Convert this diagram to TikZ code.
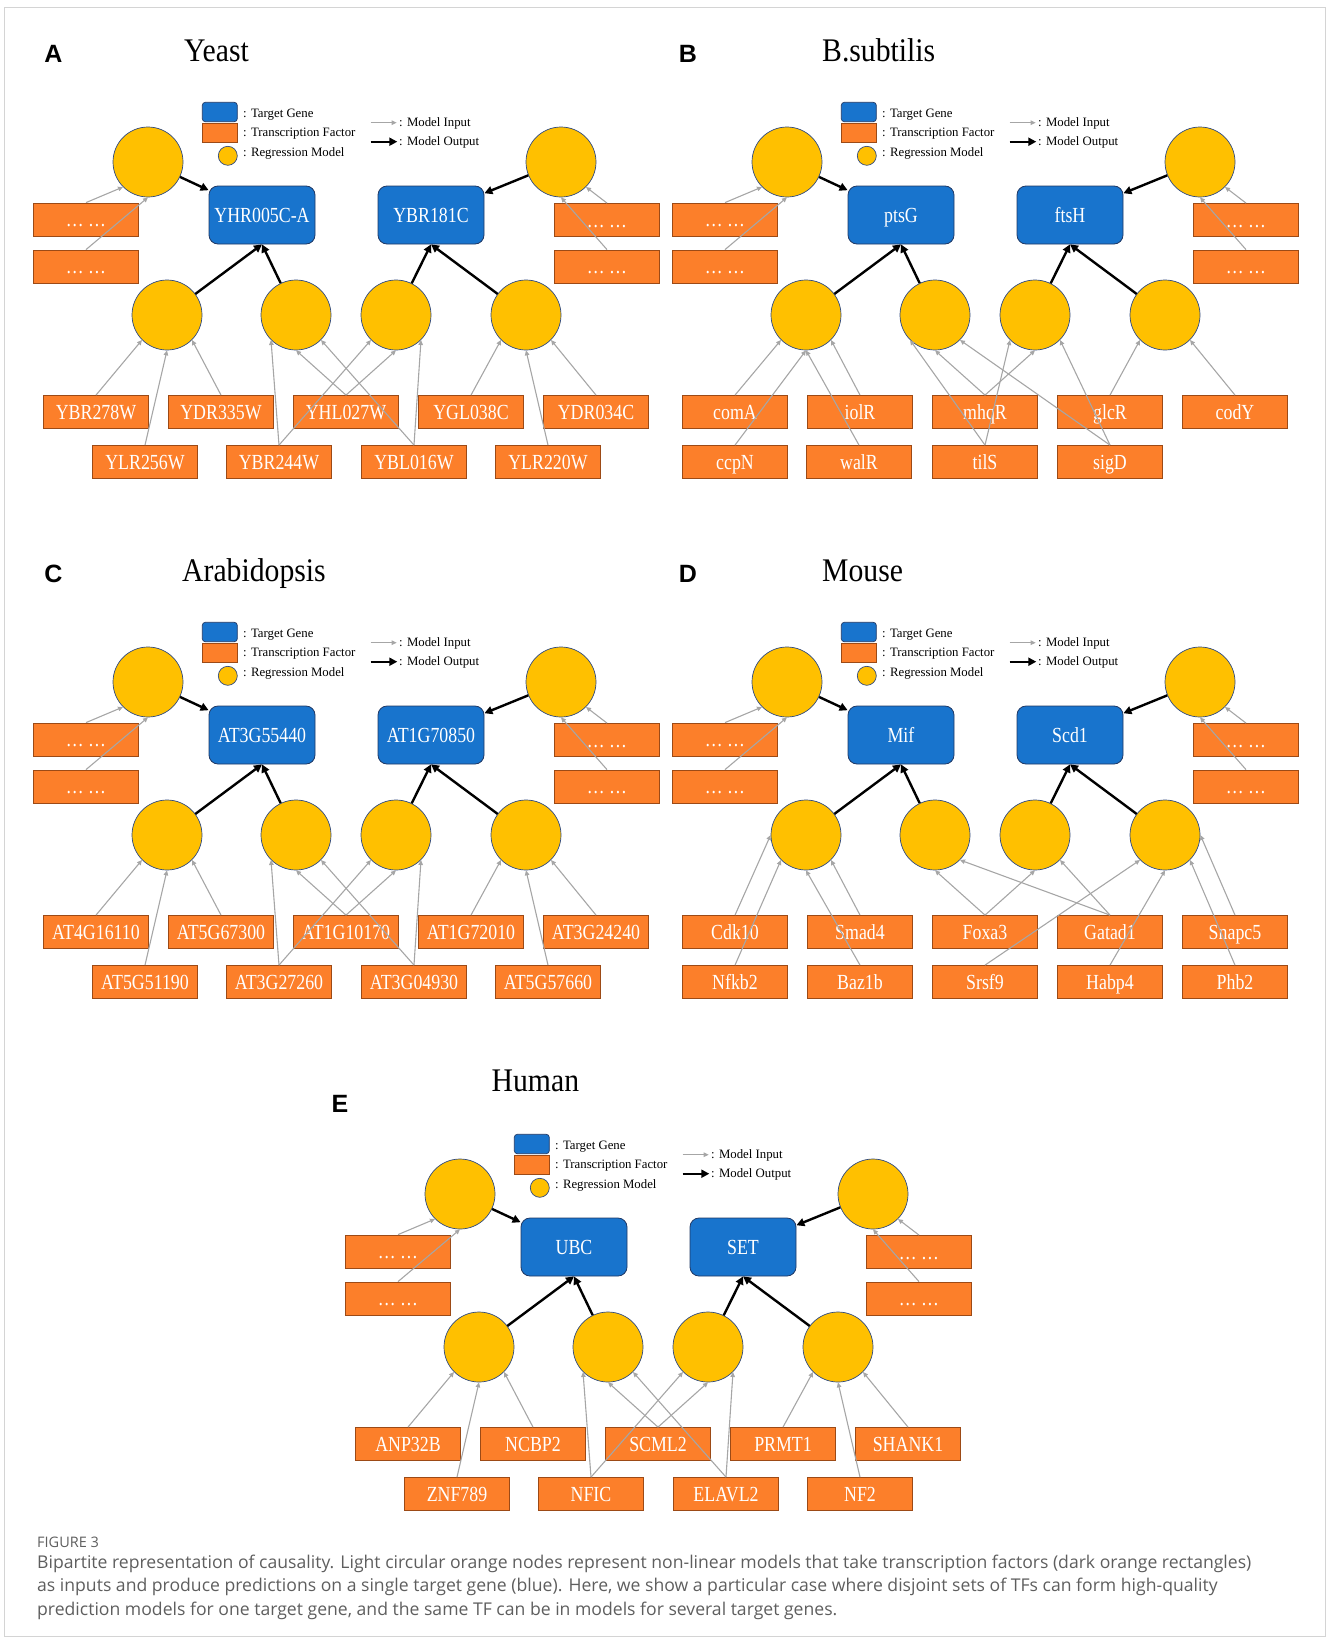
\documentclass[tikz,border=0pt]{standalone}
\usepackage{fontspec}
\setmainfont{Liberation Serif}
\newfontfamily\labelfont[FakeStretch=0.83]{Liberation Serif}
\newfontfamily\titlefont[FakeStretch=0.9]{Liberation Serif}
\newfontfamily\letterfont{Liberation Sans}
\newfontfamily\captionfont{Open Sans}
\usetikzlibrary{arrows.meta, positioning}
\definecolor{genebg}{HTML}{1874CD}
\definecolor{geneedge}{HTML}{203864}
\definecolor{tfbg}{HTML}{FC7F2A}
\definecolor{tfedge}{HTML}{9C4A16}
\definecolor{modelbg}{HTML}{FFC000}
\definecolor{modeledge}{HTML}{2F4A80}
\definecolor{ingray}{HTML}{A6A6A6}
\definecolor{framegray}{HTML}{D4D4D4}
\definecolor{capgray}{HTML}{5E5E5E}

% shared part of every panel: legend, target genes, regression models
\newcommand{\panelcore}[3]{%
  \node[draw=geneedge, fill=genebg, rounded corners=3pt, line width=0.7pt,
        minimum width=35pt, minimum height=19.4pt, inner sep=0pt] (#1-kg) at (219.8,112) {};
  \node[draw=tfedge, fill=tfbg, line width=0.7pt,
        minimum width=35pt, minimum height=19.4pt, inner sep=0pt] (#1-kt) at (219.5,133) {};
  \node[modelnode, minimum size=19pt] (#1-km) at (227.8,155.8) {};
  \node[legtext] (#1-kgt) at (243,117.3) {: Target Gene};
  \node[legtext] (#1-ktt) at (243,136.7) {: Transcription Factor};
  \node[legtext] (#1-kmt) at (243,156.7) {: Regression Model};
  \coordinate (#1-ki0) at (370.7,122.7);
  \coordinate (#1-ki1) at (396.7,122.7);
  \coordinate (#1-ko0) at (370.7,141.7);
  \coordinate (#1-ko1) at (397.3,141.7);
  \draw[inarrow] (#1-ki0) -- (#1-ki1);
  \draw[outarrow] (#1-ko0) -- (#1-ko1);
  \node[legtext] (#1-kit) at (399,126.5) {: Model Input};
  \node[legtext] (#1-kot) at (399,145.5) {: Model Output};
  % top row
  \node[modelnode] (#1-tl) at (148,162) {};
  \node[modelnode] (#1-tr) at (561,162) {};
  \node[genenode] (#1-g1) at (262,215) {#2};
  \node[genenode] (#1-g2) at (431,215) {#3};
  \node[tfnode] (#1-d1) at (86,219.5) {… …};
  \node[tfnode] (#1-d2) at (86,266.5) {… …};
  \node[tfnode] (#1-d3) at (607,220) {… …};
  \node[tfnode] (#1-d4) at (607,266.5) {… …};
  \foreach \x [count=\i] in {167,296,396,526}
    \node[modelnode] (#1-m\i) at (\x,315) {};
  \draw[inarrow] (#1-d1.north) -- (#1-tl.south west);
  \draw[inarrow] (#1-d2.north) -- (#1-tl.south);
  \draw[inarrow] (#1-d3.north) -- (#1-tr.south east);
  \draw[inarrow] (#1-d4.north) -- (#1-tr.south);
  \draw[outarrow] (#1-tl) -- (#1-g1);
  \draw[outarrow] (#1-tr) -- (#1-g2);
  \draw[outarrow] (#1-m1) -- (#1-g1.south);
  \draw[outarrow] (#1-m2) -- (#1-g1.south);
  \draw[outarrow] (#1-m3) -- (#1-g2.south);
  \draw[outarrow] (#1-m4) -- (#1-g2.south);
}

% wiring shared by panels A, C and E
\newcommand{\wiresace}[1]{%
  \draw[inarrow] (#1-f1.north) -- (#1-m1.south west);
  \draw[inarrow] (#1-s1.north) -- (#1-m1.south);
  \draw[inarrow] (#1-f2.north) -- (#1-m1.south east);
  \draw[inarrow] (#1-s2.north) -- (#1-m2.south west);
  \draw[inarrow] (#1-s2.north) -- (#1-m3.south west);
  \draw[inarrow] (#1-f3.north) -- (#1-m2.south);
  \draw[inarrow] (#1-f3.north) -- (#1-m3.south);
  \draw[inarrow] (#1-s3.north) -- (#1-m2.south east);
  \draw[inarrow] (#1-s3.north) -- (#1-m3.south east);
  \draw[inarrow] (#1-f4.north) -- (#1-m4.south west);
  \draw[inarrow] (#1-s4.north) -- (#1-m4.south);
  \draw[inarrow] (#1-f5.north) -- (#1-m4.south east);
}

\begin{document}
\begin{tikzpicture}[x=1pt, y=-1pt,
    modelnode/.style={circle, draw=modeledge, fill=modelbg, line width=0.7pt,
                      minimum size=70pt, inner sep=0pt},
    genenode/.style={rectangle, rounded corners=9pt, draw=geneedge, fill=genebg,
                     line width=0.8pt, minimum width=106pt, minimum height=58pt,
                     inner sep=0pt, text=white, text height=14pt, text depth=0pt,
                     font=\labelfont\fontsize{21.5}{21.5}\selectfont},
    tfnode/.style={rectangle, draw=tfedge, fill=tfbg, line width=0.8pt,
                   minimum width=105pt, minimum height=33pt, inner sep=0pt,
                   text=white, text height=14pt, text depth=0pt,
                   font=\labelfont\fontsize{21.5}{21.5}\selectfont},
    inarrow/.style={-{Triangle[length=5pt, width=4.5pt]}, draw=ingray, line width=1.1pt},
    outarrow/.style={-{Triangle[length=8pt, width=8pt]}, draw=black, line width=2.4pt},
    legtext/.style={anchor=base west, inner sep=0pt, font=\fontsize{12.8}{12.8}\selectfont},
    titletext/.style={anchor=base west, inner sep=0pt, font=\titlefont\fontsize{33}{33}\selectfont},
    lettertext/.style={inner sep=0pt, font=\letterfont\bfseries\fontsize{25}{25}\selectfont},
    captext/.style={anchor=base west, inner sep=0pt, text=capgray,
                    font=\captionfont\fontsize{17.6}{17.6}\selectfont}
]
    \useasboundingbox (0,0) rectangle (1328,1638);
    \draw[framegray, line width=1.2pt] (4.5,7.5) rectangle (1325.5,1636.5);

    % A: Yeast
    \begin{scope}
        \node[lettertext] (a-letter) at (53.5,53.5) {A};
        \node[titletext] (a-title) at (184,61.7) {Yeast};
        \panelcore{a}{YHR005C-A}{YBR181C}
        \foreach \x/\t [count=\i] in {96/YBR278W, 221/YDR335W, 346/YHL027W, 471/YGL038C, 596/YDR034C}
            \node[tfnode] (a-f\i) at (\x,412) {\t};
        \foreach \x/\t [count=\i] in {145/YLR256W, 279/YBR244W, 414/YBL016W, 548/YLR220W}
            \node[tfnode] (a-s\i) at (\x,462) {\t};
        \wiresace{a}
    \end{scope}

    % B: B.subtilis
    \begin{scope}[shift={(639,0)}]
        \node[lettertext] (b-letter) at (49,53.5) {B};
        \node[titletext] (b-title) at (183,61.7) {B.subtilis};
        \panelcore{b}{ptsG}{ftsH}
        \foreach \x/\t [count=\i] in {96/comA, 221/iolR, 346/mhqR, 471/glcR, 596/codY}
            \node[tfnode] (b-f\i) at (\x,412) {\t};
        \foreach \x/\t [count=\i] in {96/ccpN, 220/walR, 346/tilS, 471/sigD}
            \node[tfnode] (b-s\i) at (\x,462) {\t};
        \draw[inarrow] (b-f1.north) -- (b-m1.south west);
        \draw[inarrow] (b-s1.north) -- (b-m1.south);
        \draw[inarrow] (b-s2.north) -- (b-m1.south);
        \draw[inarrow] (b-f2.north) -- (b-m1.south east);
        \draw[inarrow] (b-f3.north) -- (b-m2.south);
        \draw[inarrow] (b-f3.north) -- (b-m3.south);
        \draw[inarrow] (b-s3.north) -- (b-m2.south west);
        \draw[inarrow] (b-s3.north) -- (b-m3.south west);
        \draw[inarrow] (b-s4.north) -- (b-m2.south east);
        \draw[inarrow] (b-s4.north) -- (b-m3.south east);
        \draw[inarrow] (b-f4.north) -- (b-m4.south west);
        \draw[inarrow] (b-f5.north) -- (b-m4.south east);
    \end{scope}

    % C: Arabidopsis
    \begin{scope}[shift={(0,520)}]
        \node[lettertext] (c-letter) at (53.5,53.5) {C};
        \node[titletext] (c-title) at (182,61.7) {Arabidopsis};
        \panelcore{c}{AT3G55440}{AT1G70850}
        \foreach \x/\t [count=\i] in {96/AT4G16110, 221/AT5G67300, 346/AT1G10170, 471/AT1G72010, 596/AT3G24240}
            \node[tfnode] (c-f\i) at (\x,412) {\t};
        \foreach \x/\t [count=\i] in {145/AT5G51190, 279/AT3G27260, 414/AT3G04930, 548/AT5G57660}
            \node[tfnode] (c-s\i) at (\x,462) {\t};
        \wiresace{c}
    \end{scope}

    % D: Mouse
    \begin{scope}[shift={(639,520)}]
        \node[lettertext] (d-letter) at (49,53.5) {D};
        \node[titletext] (d-title) at (183,61.7) {Mouse};
        \panelcore{d}{Mif}{Scd1}
        \foreach \x/\t [count=\i] in {96/Cdk10, 221/Smad4, 346/Foxa3, 471/Gatad1, 596/Snapc5}
            \node[tfnode] (d-f\i) at (\x,412) {\t};
        \foreach \x/\t [count=\i] in {96/Nfkb2, 221/Baz1b, 346/Srsf9, 471/Habp4, 596/Phb2}
            \node[tfnode] (d-s\i) at (\x,462) {\t};
        \draw[inarrow] (d-f1.north) -- (d-m1.west);
        \draw[inarrow] (d-s1.north) -- (d-m1.south west);
        \draw[inarrow] (d-f2.north) -- (d-m1.south east);
        \draw[inarrow] (d-s2.north) -- (d-m1.south);
        \draw[inarrow] (d-f3.north) -- (d-m2.south);
        \draw[inarrow] (d-f3.north) -- (d-m3.south);
        \draw[inarrow] (d-f4.north) -- (d-m2.south east);
        \draw[inarrow] (d-f4.north) -- (d-m3.south east);
        \draw[inarrow] (d-s3.north) -- (d-m4.south west);
        \draw[inarrow] (d-s4.north) -- (d-m4.south);
        \draw[inarrow] (d-f5.north) -- (d-m4.east);
        \draw[inarrow] (d-s5.north) -- (d-m4.south east);
    \end{scope}

    % E: Human
    \begin{scope}[shift={(312,1032)}]
        \node[lettertext] (e-letter) at (28,72) {E};
        \node[titletext] (e-title) at (179.5,59.7) {Human};
        \panelcore{e}{UBC}{SET}
        \foreach \x/\t [count=\i] in {96/ANP32B, 221/NCBP2, 346/SCML2, 471/PRMT1, 596/SHANK1}
            \node[tfnode] (e-f\i) at (\x,412) {\t};
        \foreach \x/\t [count=\i] in {145/ZNF789, 279/NFIC, 414/ELAVL2, 548/NF2}
            \node[tfnode] (e-s\i) at (\x,462) {\t};
        \wiresace{e}
    \end{scope}

    % caption
    \node[captext, font=\captionfont\fontsize{14.5}{14.5}\selectfont] (fig-no) at (37,1547) {FIGURE 3};
    \node[captext] (cap-1) at (37,1568) {Bipartite representation of causality. Light circular orange nodes represent non-linear models that take transcription factors (dark orange rectangles)};
    \node[captext] (cap-2) at (37,1591.5) {as inputs and produce predictions on a single target gene (blue). Here, we show a particular case where disjoint sets of TFs can form high-quality};
    \node[captext] (cap-3) at (37,1615) {prediction models for one target gene, and the same TF can be in models for several target genes.};
\end{tikzpicture}
\end{document}
